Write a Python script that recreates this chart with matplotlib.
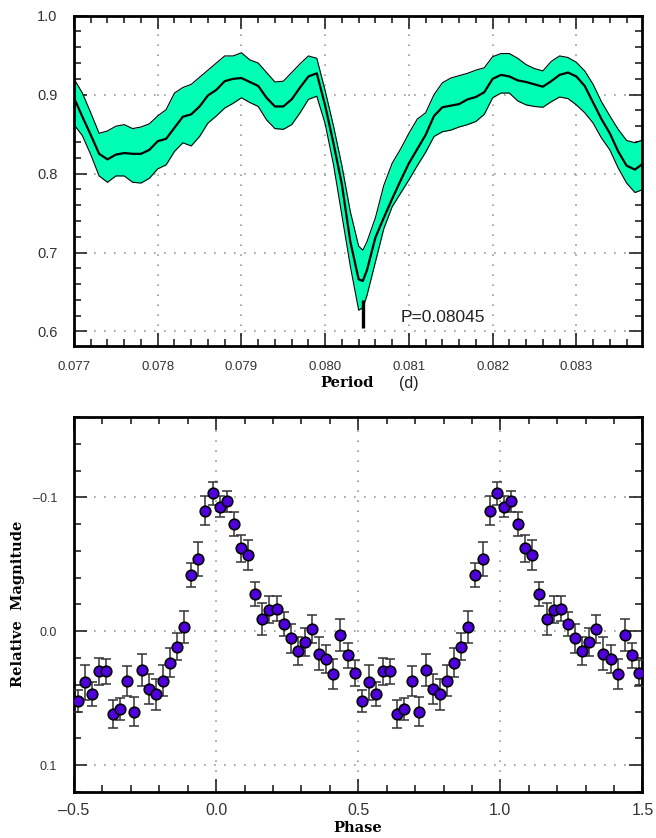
"""
Period analysis plot: theta/PDM curve with error band (top) and the
phase-folded light curve with error bars (bottom).
"""

import matplotlib
matplotlib.use("Agg")
import matplotlib.pyplot as plt
import numpy as np
from matplotlib.ticker import MultipleLocator, FixedLocator


# --- top panel: period scan (mean with upper/lower envelope) ---
period = [0.0770, 0.0771, 0.0772, 0.0773, 0.0774, 0.0775, 0.0776, 0.0777, 0.0778, 0.0779,
          0.0780, 0.0781, 0.0782, 0.0783, 0.0784, 0.0785, 0.0786, 0.0787, 0.0788, 0.0789,
          0.0790, 0.0791, 0.0792, 0.0793, 0.0794, 0.0795, 0.0796, 0.0797, 0.0798, 0.0799,
          0.0800, 0.0801, 0.0802, 0.0803, 0.0804, 0.08045, 0.0805, 0.0806, 0.0807, 0.0808,
          0.0809, 0.0810, 0.0811, 0.0812, 0.0813, 0.0814, 0.0815, 0.0816, 0.0817, 0.0818,
          0.0819, 0.0820, 0.0821, 0.0822, 0.0823, 0.0824, 0.0825, 0.0826, 0.0827, 0.0828,
          0.0829, 0.0830, 0.0831, 0.0832, 0.0833, 0.0834, 0.0835, 0.0836, 0.0837, 0.0838]

theta_mean = [0.896, 0.872, 0.849, 0.825, 0.818, 0.824, 0.826, 0.825, 0.825, 0.830,
              0.841, 0.844, 0.858, 0.872, 0.875, 0.885, 0.899, 0.906, 0.917, 0.920,
              0.921, 0.916, 0.911, 0.896, 0.885, 0.885, 0.894, 0.909, 0.923, 0.927,
              0.886, 0.838, 0.786, 0.714, 0.666, 0.664, 0.678, 0.719, 0.744, 0.768,
              0.791, 0.813, 0.831, 0.849, 0.873, 0.884, 0.886, 0.888, 0.894, 0.897,
              0.903, 0.920, 0.925, 0.923, 0.918, 0.916, 0.913, 0.910, 0.917, 0.925,
              0.928, 0.923, 0.911, 0.890, 0.869, 0.851, 0.828, 0.810, 0.805, 0.813]

theta_upper = [0.920, 0.902, 0.877, 0.851, 0.854, 0.860, 0.862, 0.857, 0.859, 0.863,
               0.873, 0.881, 0.902, 0.909, 0.913, 0.922, 0.931, 0.940, 0.949, 0.949,
               0.953, 0.944, 0.940, 0.928, 0.916, 0.917, 0.928, 0.939, 0.949, 0.946,
               0.905, 0.860, 0.810, 0.752, 0.708, 0.703, 0.714, 0.744, 0.785, 0.813,
               0.831, 0.851, 0.869, 0.877, 0.900, 0.915, 0.921, 0.924, 0.927, 0.931,
               0.934, 0.948, 0.952, 0.952, 0.946, 0.938, 0.933, 0.930, 0.942, 0.949,
               0.947, 0.941, 0.930, 0.913, 0.891, 0.873, 0.856, 0.842, 0.839, 0.843]

theta_lower = [0.862, 0.848, 0.824, 0.797, 0.789, 0.797, 0.797, 0.789, 0.788, 0.794,
               0.806, 0.811, 0.828, 0.839, 0.835, 0.847, 0.864, 0.873, 0.883, 0.889,
               0.896, 0.890, 0.885, 0.868, 0.857, 0.856, 0.862, 0.877, 0.894, 0.898,
               0.863, 0.811, 0.747, 0.683, 0.627, 0.630, 0.646, 0.688, 0.730, 0.758,
               0.775, 0.792, 0.810, 0.827, 0.847, 0.853, 0.855, 0.859, 0.862, 0.866,
               0.875, 0.896, 0.902, 0.902, 0.892, 0.887, 0.885, 0.884, 0.891, 0.897,
               0.895, 0.887, 0.877, 0.864, 0.845, 0.830, 0.807, 0.788, 0.776, 0.780]

best_period = 0.08045

# --- bottom panel: phase-averaged light curve (one cycle, plotted twice) ---
phase = [-0.4875, -0.4625, -0.4375, -0.4125, -0.3875, -0.3625, -0.3375, -0.3125, -0.2875, -0.2625,
         -0.2375, -0.2125, -0.1875, -0.1625, -0.1375, -0.1125, -0.0875, -0.0625, -0.0375, -0.0125,
         0.0125, 0.0375, 0.0625, 0.0875, 0.1125, 0.1375, 0.1625, 0.1875, 0.2125, 0.2375,
         0.2625, 0.2875, 0.3125, 0.3375, 0.3625, 0.3875, 0.4125, 0.4375, 0.4625, 0.4875]

mag = [0.052, 0.038, 0.047, 0.030, 0.030, 0.062, 0.058, 0.037, 0.060, 0.029,
       0.043, 0.047, 0.037, 0.0235, 0.0115, -0.0035, -0.042, -0.054, -0.090, -0.103,
       -0.093, -0.097, -0.080, -0.062, -0.057, -0.028, -0.009, -0.016, -0.017, -0.0055,
       0.0052, 0.0144, 0.008, -0.0017, 0.0167, 0.021, 0.032, 0.003, 0.018, 0.031]

mag_err = [0.008, 0.013, 0.009, 0.010, 0.009, 0.0105, 0.008, 0.011, 0.011, 0.012,
           0.011, 0.0115, 0.0115, 0.011, 0.010, 0.012, 0.009, 0.013, 0.011, 0.0085,
           0.008, 0.008, 0.009, 0.010, 0.011, 0.009, 0.012, 0.010, 0.009, 0.009,
           0.011, 0.0105, 0.0105, 0.0105, 0.0125, 0.0105, 0.011, 0.012, 0.0095, 0.0095]

period_ticks = [0.077, 0.078, 0.079, 0.080, 0.081, 0.082, 0.083]
theta_ticks = [0.6, 0.7, 0.8, 0.9, 1.0]
phase_ticks = [-0.5, 0.0, 0.5, 1.0, 1.5]
mag_ticks = [-0.1, 0.0, 0.1]

SANS = "Liberation Sans"
SERIF = "DejaVu Serif"
plt.rcParams["font.family"] = [SANS, "DejaVu Sans"]
plt.rcParams["axes.unicode_minus"] = True

TICK_COLOR = "#333333"
GRID_STYLE = dict(color="#9a9a9a", linestyle=(0, (1, 5)), linewidth=1.2)


def style_axes(ax, label_size_x, label_size_y, pad_x, pad_y):
    for spine in ax.spines.values():
        spine.set_linewidth(2.0)
    ax.tick_params(which="both", direction="in", top=True, right=True,
                   width=1.2, colors="#222222")
    ax.tick_params(which="major", length=9.5)
    ax.tick_params(which="minor", length=5)
    ax.tick_params(axis="x", labelsize=label_size_x, pad=pad_x, labelcolor=TICK_COLOR)
    ax.tick_params(axis="y", labelsize=label_size_y, pad=pad_y, labelcolor=TICK_COLOR)
    ax.grid(True, which="major", **GRID_STYLE)
    ax.set_axisbelow(True)


fig = plt.figure(figsize=(6.56, 8.38), dpi=100)

# Top panel
ax1 = fig.add_axes([0.1128, 0.5875, 0.8666, 0.3938])
ax1.fill_between(period, theta_lower, theta_upper, color="#00FFB4", lw=0, zorder=2)
ax1.plot(period, theta_upper, color="k", lw=0.8, zorder=3)
ax1.plot(period, theta_lower, color="k", lw=0.8, zorder=3)
ax1.plot(period, theta_mean, color="k", lw=1.6, zorder=4)
ax1.vlines(best_period, 0.604, 0.640, color="k", lw=2.4, zorder=5)
ax1.text(0.0809, 0.612, f"P={best_period:.5f}", fontsize=12.5, color="#222222")

ax1.set_xlim(0.077, 0.08379)
ax1.set_ylim(0.582, 1.0)
ax1.xaxis.set_major_locator(FixedLocator(period_ticks))
ax1.xaxis.set_minor_locator(MultipleLocator(0.0002))
ax1.yaxis.set_major_locator(FixedLocator(theta_ticks))
ax1.yaxis.set_minor_locator(MultipleLocator(0.02))
ax1.set_xticklabels([f"{t:.3f}" for t in period_ticks])
ax1.set_yticklabels([f"{t:.1f}" for t in theta_ticks])
style_axes(ax1, 9.5, 10.5, 11, 12)

fig.text(347 / 656, 1 - 383 / 838, "Period", ha="center", va="center",
         family=SERIF, fontweight="bold", fontsize=10.5)
fig.text(409 / 656, 1 - 383 / 838, "(d)", ha="center", va="center",
         fontsize=11.5, color="#222222")

# Bottom panel
ax2 = fig.add_axes([0.1128, 0.0549, 0.8666, 0.4475])
ph = np.concatenate([phase, np.array(phase) + 1.0])
mg = np.concatenate([mag, mag])
er = np.concatenate([mag_err, mag_err])
ax2.errorbar(ph, mg, yerr=er, fmt="none", ecolor="#333333", elinewidth=1.1,
             capsize=3.8, capthick=1.1, zorder=3)
ax2.plot(ph, mg, "o", ms=7.6, mfc="#5000DC", mec="k", mew=1.2, zorder=4)

ax2.set_xlim(-0.5, 1.5)
ax2.set_ylim(0.12, -0.16)
ax2.xaxis.set_major_locator(FixedLocator(phase_ticks))
ax2.xaxis.set_minor_locator(MultipleLocator(0.1))
ax2.yaxis.set_major_locator(FixedLocator(mag_ticks))
ax2.yaxis.set_minor_locator(MultipleLocator(0.02))
ax2.set_xticklabels([f"{t:.1f}".replace("-", "\u2013") for t in phase_ticks])
ax2.set_yticklabels([f"{t:.1f}".replace("-", "\u2013") for t in mag_ticks])
style_axes(ax2, 11.5, 9, 8, 12)

fig.text(358 / 656, 1 - 828 / 838, "Phase", ha="center", va="center",
         family=SERIF, fontweight="bold", fontsize=10.5)
fig.text(18 / 656, 1 - 604 / 838, "Relative  Magnitude", ha="center", va="center",
         rotation=90, family=SERIF, fontweight="bold", fontsize=10.5)

fig.savefig("out.png", dpi=100)
